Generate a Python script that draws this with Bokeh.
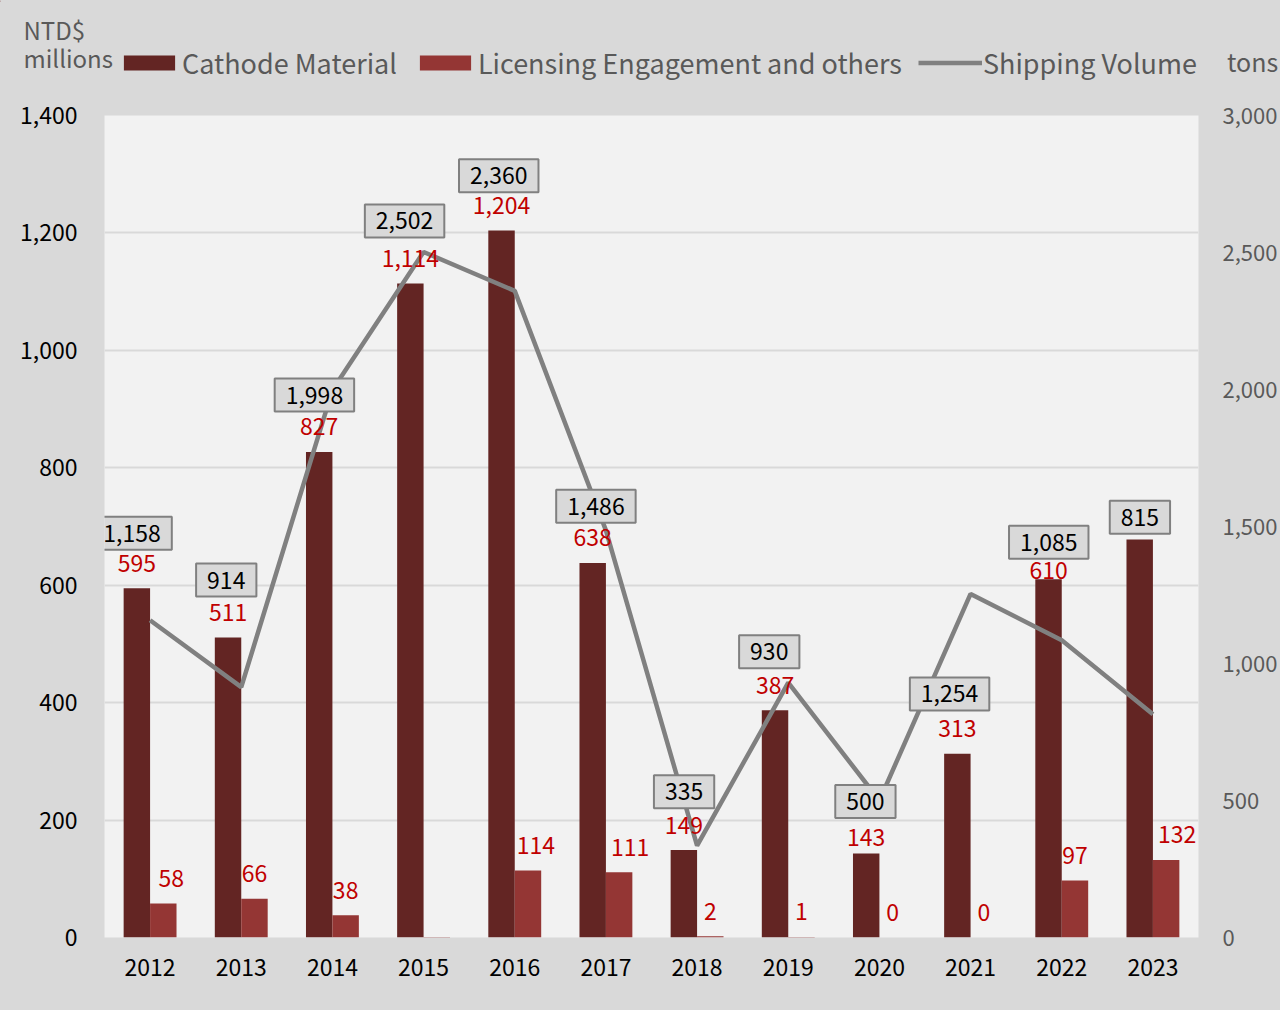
from bokeh.plotting import figure
from bokeh.layouts import column
from bokeh.models import (ColumnDataSource, Range1d, LinearAxis, FixedTicker,
                          NumeralTickFormatter, Legend, LegendItem)
from bokeh.core.properties import value
from bokeh.embed import file_html
from bokeh.resources import INLINE

# ---------------- data ----------------
years = ["2012", "2013", "2014", "2015", "2016", "2017",
         "2018", "2019", "2020", "2021", "2022", "2023"]
cathode = [595, 511, 827, 1114, 1204, 638, 149, 387, 143, 313, 610, 678]
licensing = [58, 66, 38, -2, 114, 111, 2, 1, 0, 0, 97, 132]
shipping = [1158, 914, 1998, 2502, 2360, 1486, 335, 930, 500, 1254, 1085, 815]
cathode_shown = [True] * 11 + [False]
licensing_shown = [True, True, True, False] + [True] * 8
left_ticks = [0, 200, 400, 600, 800, 1000, 1200, 1400]
right_ticks = [0, 500, 1000, 1500, 2000, 2500, 3000]
series_names = ["Cathode Material", "Licensing Engagement and others",
                "Shipping Volume"]
left_title = ["NTD$", "millions"]
right_title = "tons"

# ---------------- layout-only tweaks (pixels) ----------------
cath_up = [25, 25, 25, 25, 25, 25, 25, 25, 16, 25, 9, 25]
lic_dx = [8, 0, 0, 0, 8, 11, 0, 0, 0, 0, 0, 11]
box_dx = [-18, -15, -18, -19, -16, -10, -13, -19, -14, -21, -13, -13]
box_up = [87, 107, -5, 31, 115, 24, 54, 31, -1, -100, 98, 197]

FONT = "Noto Sans CJK TC"
DARK = "#632523"
LIGHT = "#943634"
RED = "#c00000"
GREY_TXT = "#595959"
BG = "#d9d9d9"

W = 1280
HDR_H = 90
MAIN_H = 920

idx = list(range(len(years)))
bar_w = 0.29
off = 0.145

# ================= header (legend + axis titles) =================
hdr = figure(width=W, height=HDR_H, x_range=Range1d(0, W),
             y_range=Range1d(HDR_H, 0), output_backend="svg",
             toolbar_location=None, min_border=0, min_border_left=0,
             min_border_right=0, min_border_top=0, min_border_bottom=0,
             x_axis_location=None, y_axis_location=None,
             background_fill_color=BG, border_fill_color=BG,
             outline_line_color=None, frame_align=False)
hdr.grid.visible = False

# legend swatches (kept off-screen, only used for the legend glyphs)
d_c = hdr.vbar(x=[-100], top=[1], width=1, fill_color=DARK, line_color=None)
d_l = hdr.vbar(x=[-100], top=[1], width=1, fill_color=LIGHT, line_color=None)
d_s = hdr.line(x=[-100, -99], y=[1, 1], line_color="#808080", line_width=4.5)

legend = Legend(items=[
    LegendItem(label=series_names[0], renderers=[d_c]),
    LegendItem(label=series_names[1], renderers=[d_l]),
    LegendItem(label=series_names[2], renderers=[d_s]),
], orientation="horizontal", location=(117, 8), padding=0, margin=0,
    spacing=16, label_standoff=1, glyph_width=64, glyph_height=19,
    label_text_font=FONT, label_text_font_size="27px",
    label_text_color=GREY_TXT, background_fill_alpha=0,
    border_line_color=None)
hdr.add_layout(legend, "center")

hdr.text(x=[23, 23], y=[29, 57], text=left_title, text_align="left",
         text_baseline="middle", text_color=GREY_TXT,
         text_font=value(FONT), text_font_size="24px")
hdr.text(x=[1252], y=[60], text=[right_title], text_align="center",
         text_baseline="middle", text_color=GREY_TXT,
         text_font=value(FONT), text_font_size="25px")

# ================= main chart =================
p = figure(width=W, height=MAIN_H, x_range=Range1d(-0.5, 11.5),
           y_range=Range1d(0, 1400), output_backend="svg",
           toolbar_location=None, min_border_left=104, min_border_right=82,
           min_border_top=25, min_border_bottom=73,
           background_fill_color="#f2f2f2", border_fill_color=BG,
           outline_line_color=None, frame_align=False)
p.extra_y_ranges = {"ship": Range1d(0, 3000)}

xa = p.xaxis[0]
xa.ticker = FixedTicker(ticks=idx)
xa.major_label_overrides = {i: y for i, y in zip(idx, years)}
xa.major_label_text_font = FONT
xa.major_label_text_font_size = "23px"
xa.major_label_text_color = "#000000"
xa.major_label_standoff = 15
xa.axis_line_color = None
xa.major_tick_line_color = None
xa.minor_tick_line_color = None

ya = p.yaxis[0]
ya.ticker = FixedTicker(ticks=left_ticks)
ya.formatter = NumeralTickFormatter(format="0,0")
ya.major_label_text_font = FONT
ya.major_label_text_font_size = "23px"
ya.major_label_text_color = "#000000"
ya.major_label_standoff = 21
ya.axis_line_color = None
ya.major_tick_line_color = None
ya.minor_tick_line_color = None

ra = LinearAxis(y_range_name="ship", ticker=FixedTicker(ticks=right_ticks),
                formatter=NumeralTickFormatter(format="0,0"))
ra.major_label_text_font = FONT
ra.major_label_text_font_size = "22px"
ra.major_label_text_color = GREY_TXT
ra.major_label_standoff = 18
ra.axis_line_color = None
ra.major_tick_line_color = None
ra.minor_tick_line_color = None
p.add_layout(ra, "right")

p.xgrid.grid_line_color = None
p.ygrid.grid_line_color = BG
p.ygrid.grid_line_width = 2
p.ygrid.ticker = FixedTicker(ticks=left_ticks)

src = ColumnDataSource(dict(
    xc=[i - off for i in idx], xl=[i + off for i in idx],
    cathode=cathode, licensing=licensing))
p.vbar(x="xc", top="cathode", width=bar_w, source=src,
       fill_color=DARK, line_color=None)
p.vbar(x="xl", top="licensing", width=bar_w, source=src,
       fill_color=LIGHT, line_color=None)

p.line(x=idx, y=shipping, y_range_name="ship",
       line_color="#808080", line_width=4.5)

cl = ColumnDataSource(dict(
    x=[i - off for i, s in zip(idx, cathode_shown) if s],
    y=[v for v, s in zip(cathode, cathode_shown) if s],
    t=[f"{v:,}" for v, s in zip(cathode, cathode_shown) if s],
    dy=[-u for u, s in zip(cath_up, cathode_shown) if s]))
p.text(x="x", y="y", text="t", y_offset="dy", source=cl,
       text_align="center", text_baseline="middle", text_color=RED,
       text_font=value(FONT), text_font_size="23px")

ll = ColumnDataSource(dict(
    x=[i + off for i, s in zip(idx, licensing_shown) if s],
    y=[max(v, 0) for v, s in zip(licensing, licensing_shown) if s],
    t=[f"{v:,}" for v, s in zip(licensing, licensing_shown) if s],
    dx=[d for d, s in zip(lic_dx, licensing_shown) if s],
    dy=[-25 for s in licensing_shown if s]))
p.text(x="x", y="y", text="t", x_offset="dx", y_offset="dy", source=ll,
       text_align="center", text_baseline="middle", text_color=RED,
       text_font=value(FONT), text_font_size="23px")

bl = ColumnDataSource(dict(
    x=idx, y=shipping, t=[f"{v:,}" for v in shipping],
    dx=box_dx, dy=[-u for u in box_up]))
p.text(x="x", y="y", text="t", x_offset="dx", y_offset="dy", source=bl,
       y_range_name="ship", text_align="center", text_baseline="middle",
       text_color="#000000", text_font=value(FONT), text_font_size="23px",
       background_fill_color=BG, border_line_color="#808080",
       border_line_width=2,
       padding=dict(left=11, right=11, top=8, bottom=8))

layout = column(hdr, p, spacing=0)
layout.styles = {"background-color": BG}
open("out.html", "w").write(file_html(layout, INLINE))
